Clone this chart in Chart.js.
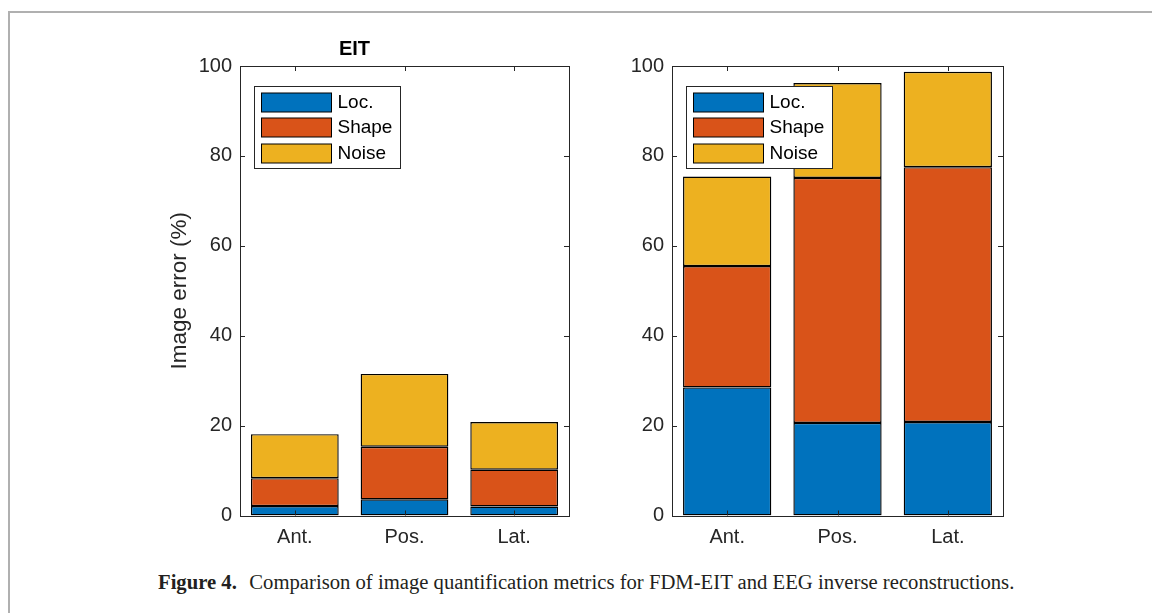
<!DOCTYPE html>
<html>
<head>
<meta charset="utf-8">
<script src="https://cdn.jsdelivr.net/npm/chart.js@4/dist/chart.umd.min.js"></script>
<style>
  body { margin: 0; background: #fff; width: 1152px; height: 613px; overflow: hidden; position: relative; }
  #frame { position: absolute; left: 8px; top: 11px; width: 1160px; height: 620px; border: 2px solid #b0b0b0; box-sizing: border-box; }
  .plot { position: absolute; top: 30px; }
  #caption { position: absolute; left: 158px; top: 572px; font-family: "Liberation Serif", serif; font-size: 20px; line-height: 20px; color: #231f20; white-space: nowrap; transform-origin: 0 0; }
  #caption b { margin-right: 7px; }
</style>
</head>
<body>
<div id="frame"></div>
<div class="plot" style="left:140px"><canvas id="eit" width="432" height="530"></canvas></div>
<div class="plot" style="left:572px"><canvas id="eeg" width="442" height="530"></canvas></div>
<div id="caption"><b>Figure 4.</b> Comparison of image quantification metrics for FDM-EIT and EEG inverse reconstructions.</div>
<script>
const categories = ['Ant.', 'Pos.', 'Lat.'];
const seriesNames = ['Loc.', 'Shape', 'Noise'];
const seriesColors = ['#0072BD', '#D95319', '#EDB120'];
const yTicks = [0, 20, 40, 60, 80, 100];

// EIT panel
const eitLoc = [2.1, 3.6, 2.0];
const eitShape = [6.2, 11.7, 8.2];
const eitNoise = [9.8, 16.2, 10.6];

// EEG panel
const eegLoc = [28.5, 20.6, 20.8];
const eegShape = [27.0, 54.5, 56.7];
const eegNoise = [19.9, 21.1, 21.2];

const axisColor = '#262626';
const sans = '"Liberation Sans", Arial, sans-serif';

// MATLAB-style box with inward ticks, plus legend inside the axes
const matlabAxes = {
  id: 'matlabAxes',
  afterDatasetsDraw(chart) {
    const { ctx, chartArea: a, scales } = chart;
    const tl = 5;
    ctx.save();
    ctx.strokeStyle = axisColor;
    ctx.lineWidth = 1;
    ctx.beginPath();
    yTicks.forEach(v => {
      const y = Math.round(scales.y.getPixelForValue(v)) + 0.5;
      ctx.moveTo(a.left, y); ctx.lineTo(a.left + tl, y);
      ctx.moveTo(a.right, y); ctx.lineTo(a.right - tl, y);
    });
    categories.forEach((c, i) => {
      const x = Math.round(scales.x.getPixelForValue(i)) + 0.5;
      ctx.moveTo(x, a.bottom); ctx.lineTo(x, a.bottom - tl);
      ctx.moveTo(x, a.top); ctx.lineTo(x, a.top + tl);
    });
    ctx.stroke();
    ctx.strokeRect(Math.round(a.left) + 0.5, Math.round(a.top) + 0.5,
      Math.round(a.right - a.left), Math.round(a.bottom - a.top));

    // legend
    const bx = Math.round(a.left + 14) + 0.5, by = Math.round(a.top + 20) + 0.5;
    ctx.fillStyle = '#fff';
    ctx.fillRect(bx, by, 146, 82);
    ctx.strokeStyle = axisColor;
    ctx.strokeRect(bx, by, 146, 82);
    ctx.font = '19px ' + sans;
    ctx.textBaseline = 'middle';
    chart.data.datasets.forEach((ds, i) => {
      const sy = by + 6 + i * 25.5;
      ctx.fillStyle = ds.backgroundColor;
      ctx.fillRect(bx + 7, Math.round(sy), 70, 19);
      ctx.strokeStyle = '#000';
      ctx.strokeRect(bx + 7, Math.round(sy), 70, 19);
      ctx.fillStyle = '#000';
      ctx.fillText(ds.label, bx + 83, Math.round(sy) + 10);
    });
    ctx.restore();
  }
};

function makeChart(id, loc, shape, noise, withTitle) {
  const sets = [loc, shape, noise].map((d, i) => ({
    label: seriesNames[i],
    data: d,
    backgroundColor: seriesColors[i],
    borderColor: '#000',
    borderWidth: 1.4,
    borderSkipped: false,
    categoryPercentage: 1.0,
    barPercentage: 0.8
  }));
  return new Chart(document.getElementById(id), {
    type: 'bar',
    data: { labels: categories, datasets: sets },
    plugins: [matlabAxes],
    options: {
      responsive: false,
      animation: false,
      layout: { padding: { left: 0, right: withTitle ? 3 : 11, top: withTitle ? 0 : 36, bottom: 0 } },
      plugins: {
        legend: { display: false },
        tooltip: { enabled: false },
        title: {
          display: withTitle,
          text: 'EIT',
          color: '#000',
          font: { family: sans, size: 20, weight: 'bold' },
          padding: { top: 7, bottom: 5 }
        }
      },
      scales: {
        x: {
          stacked: true,
          grid: { display: false, drawTicks: false },
          border: { display: false },
          ticks: { color: axisColor, font: { family: sans, size: 20 }, padding: 10 },
          afterFit: s => { s.height = 44.5; }
        },
        y: {
          stacked: true,
          min: 0, max: 100,
          grid: { display: false, drawTicks: false },
          border: { display: false },
          afterBuildTicks: s => { s.ticks = yTicks.map(v => ({ value: v })); },
          ticks: { color: axisColor, font: { family: sans, size: 20 }, padding: 8 },
          title: {
            display: withTitle,
            text: 'Image error (%)',
            color: axisColor,
            font: { family: sans, size: 22.5 },
            padding: { top: 26.5, bottom: 0 }
          },
          afterFit: s => { s.width = 100; }
        }
      }
    }
  });
}

makeChart('eit', eitLoc, eitShape, eitNoise, true);
makeChart('eeg', eegLoc, eegShape, eegNoise, false);

// fit caption to the reference width
const cap = document.getElementById('caption');
cap.style.transform = 'scaleX(' + (856 / cap.scrollWidth) + ')';
</script>
</body>
</html>
